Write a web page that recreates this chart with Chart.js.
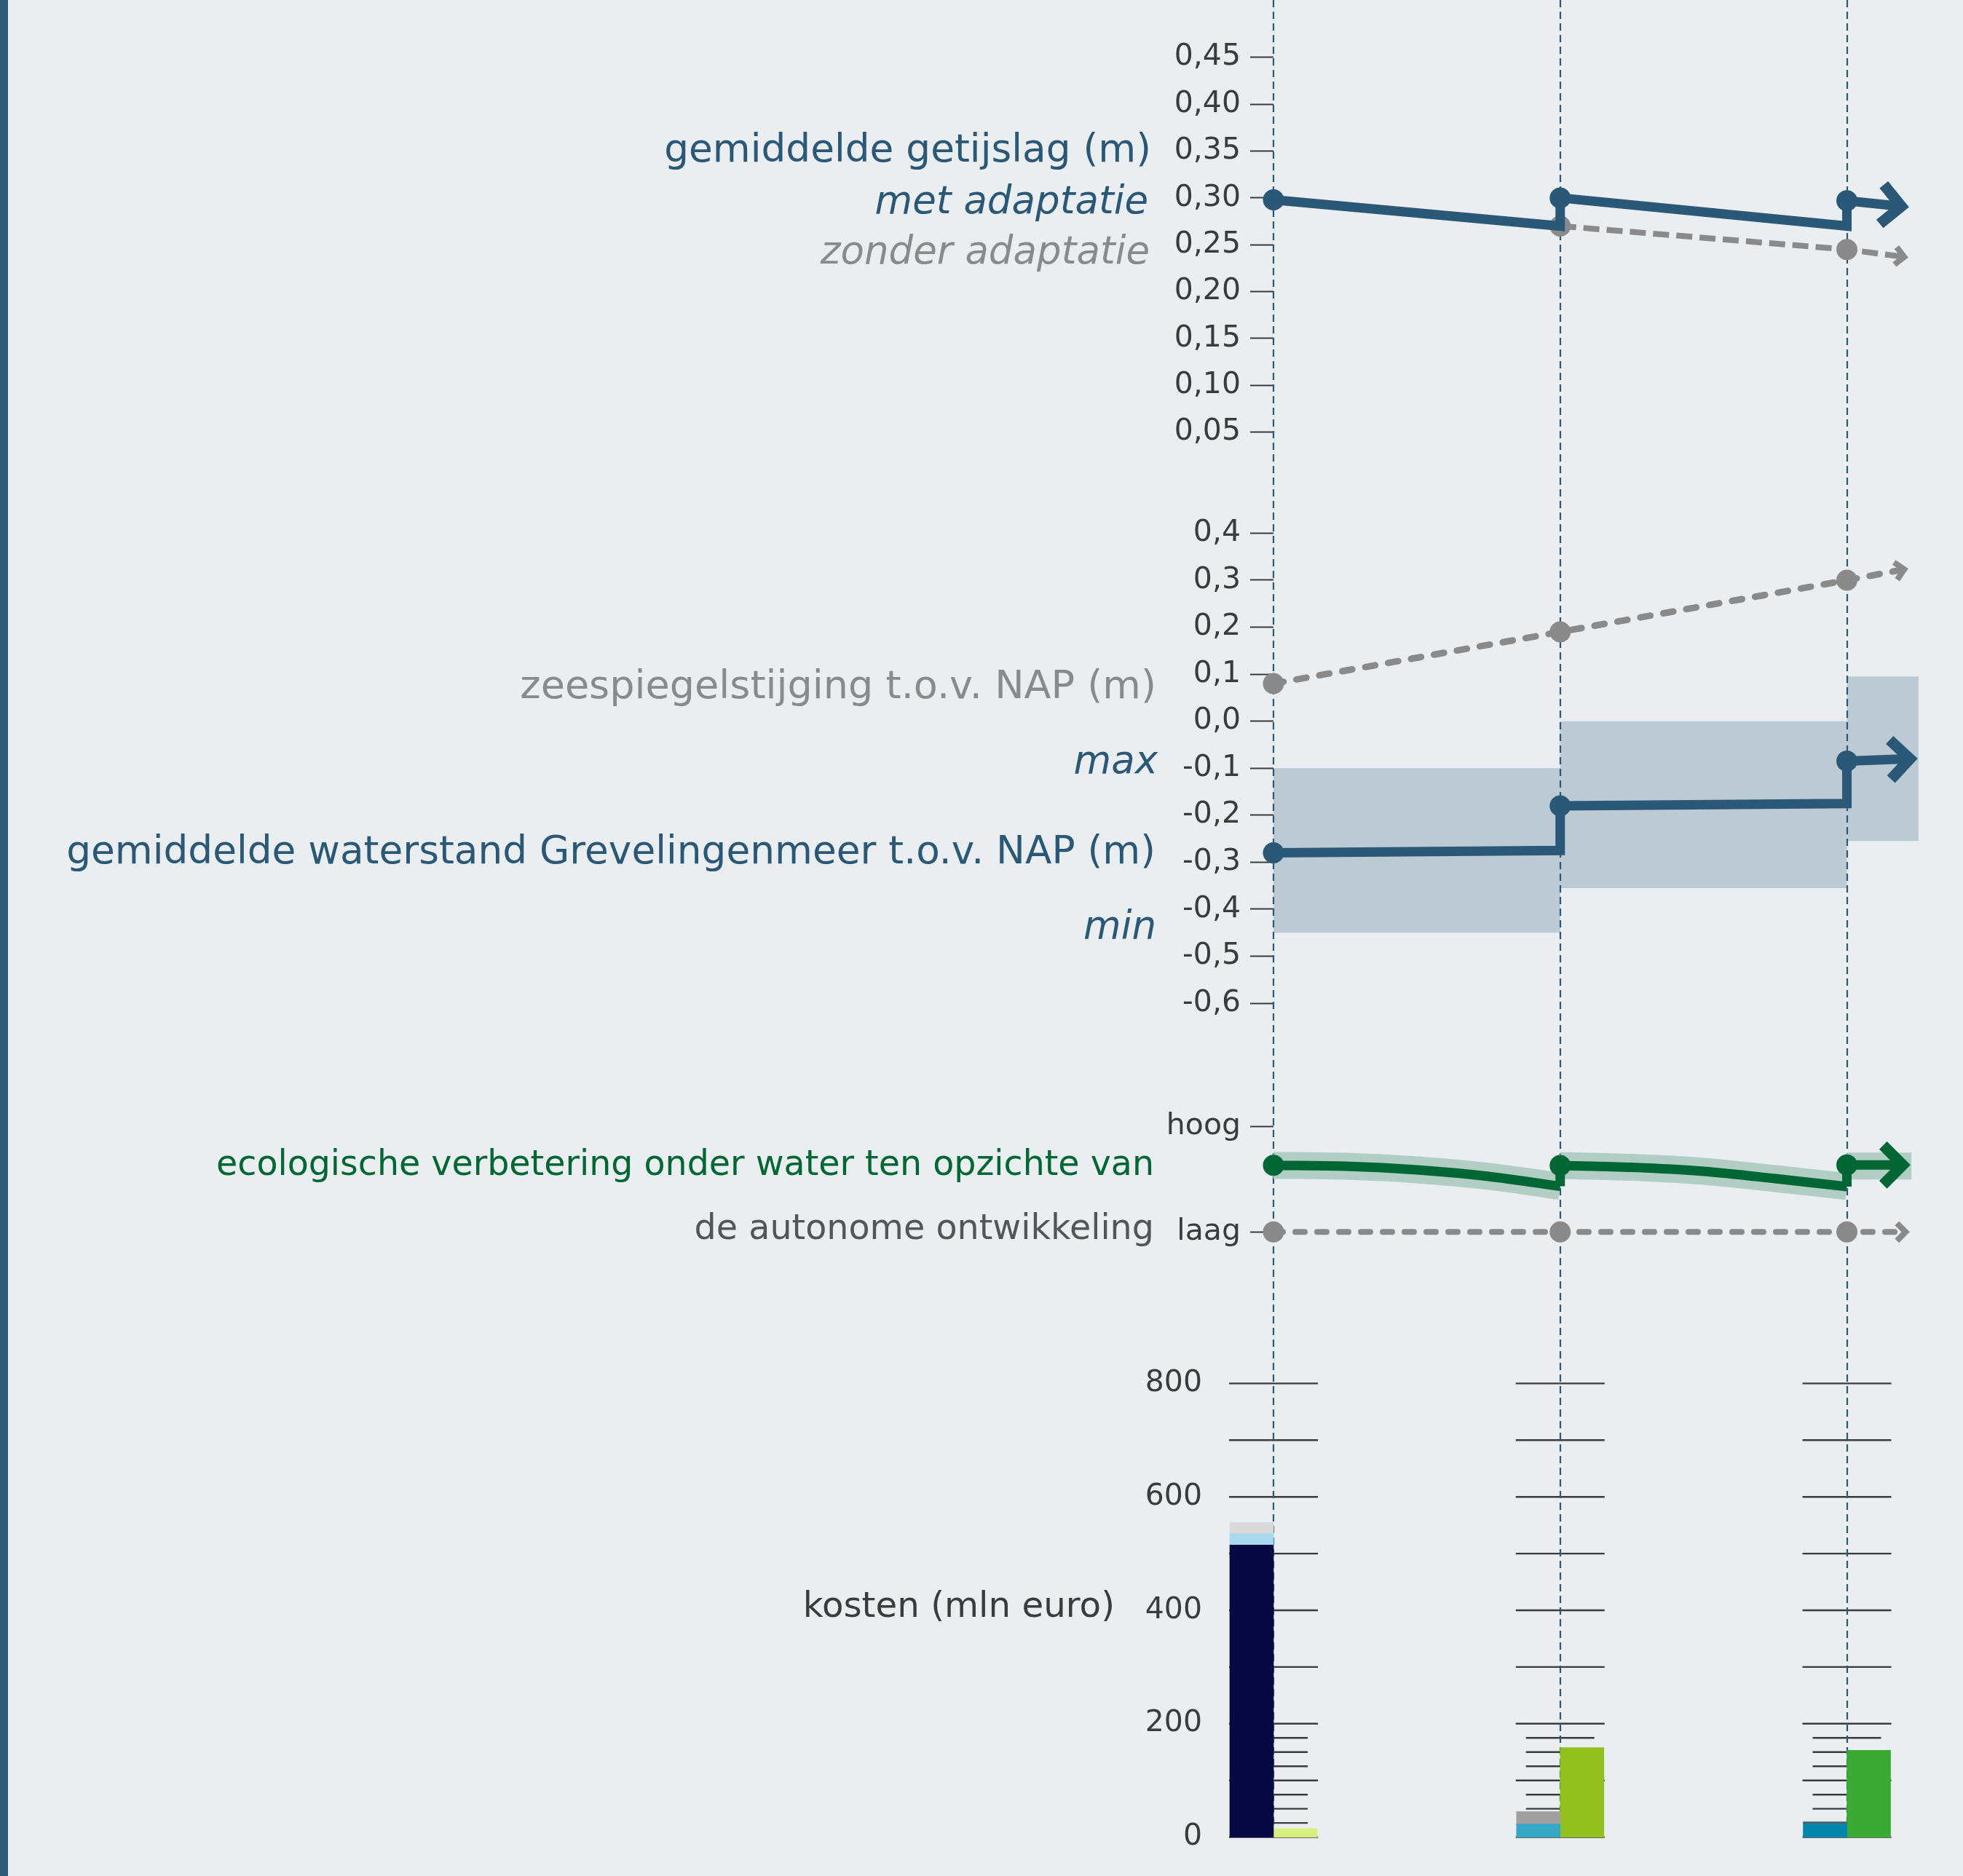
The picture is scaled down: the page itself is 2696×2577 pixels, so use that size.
<!DOCTYPE html>
<html lang="nl">
<head>
<meta charset="utf-8">
<title>Grevelingen: getijslag, waterstand, ecologie en kosten</title>
<script src="https://cdn.jsdelivr.net/npm/chart.js@4.4.1/dist/chart.umd.min.js"></script>
<style>
  html, body { margin: 0; padding: 0; background: #eaeef1; }
  #wrap { position: relative; width: 2696px; height: 2577px; }
  #stripe { position: absolute; left: 0; top: 0; width: 11px; height: 2577px; background: #2f5b7c; }
  #chart { position: absolute; left: 0; top: 0; }
</style>
</head>
<body>
<div id="wrap">
  <div id="stripe"></div>
  <canvas id="chart" width="2696" height="2577"></canvas>
</div>
<script>
// de drie momenten (gestippelde verticale lijnen)
const moments = [0, 1, 2];

// gemiddelde getijslag (m)
const tideTicks = [0.05, 0.10, 0.15, 0.20, 0.25, 0.30, 0.35, 0.40, 0.45];
const tideWithX = [0, 1, 1, 2, 2, 2.19];
const tideWith = [0.298, 0.27, 0.30, 0.27, 0.297, 0.291];
const tideWithoutX = [1, 2, 2.2];
const tideWithout = [0.27, 0.245, 0.237];

// zeespiegel en waterstand Grevelingenmeer t.o.v. NAP (m)
const waterTicks = [0.4, 0.3, 0.2, 0.1, 0, -0.1, -0.2, -0.3, -0.4, -0.5, -0.6];
const seaX = [0, 1, 2, 2.2];
const seaLevel = [0.08, 0.19, 0.30, 0.323];
const lakeX = [0, 1, 1, 2, 2, 2.22];
const lakeLevel = [-0.28, -0.275, -0.18, -0.175, -0.085, -0.08];
const rangeX = [0, 1, 1, 2, 2, 2.25];
const rangeMax = [-0.1, -0.1, 0, 0, 0.095, 0.095];
const rangeMin = [-0.45, -0.45, -0.355, -0.355, -0.255, -0.255];

// ecologische verbetering (laag = 0, hoog = 1)
const ecoTicks = [0, 1];
const ecoTickLabels = ['laag', 'hoog'];
const ecoX1 = [0, 0.25, 0.5, 0.75, 1];
const ecoCurve1 = [0.633, 0.624, 0.59, 0.528, 0.434];
const ecoX2 = [1, 1.25, 1.5, 1.75, 2];
const ecoCurve2 = [0.632, 0.614, 0.576, 0.507, 0.431];
const ecoTailX = [2, 2.195];
const ecoTail = [0.636, 0.636];
const ecoBandTailX = [2, 2.225];
const ecoBandTail = [0.627, 0.627];
const autoX = [0, 1, 2, 2.205];
const autoLevel = [0, 0, 0, 0];

// kosten (mln euro)
const costTicks = [0, 200, 400, 600, 800];
const costGrid = [0, 100, 200, 300, 400, 500, 600, 700, 800];
const costGridFine = [25, 50, 75, 125, 150, 175];
const costX = [0, 1, 2];
const costLeftA = [515, 23, 24];
const costLeftB = [20, 22, 3];
const costLeftC = [20, 0, 0];
const costRight = [15, 158, 153];

const BLUE = '#2c5877', GREY = '#8a8a8a', GREEN = '#006633', GREEN_BAND = '#b2cec4';
const RANGE = '#bccad3', INK = '#3b3b3b', DOT = 14.5;

Chart.defaults.font.family = '"DejaVu Sans", Verdana, sans-serif';

const pts = (xs, ys) => xs.map((x, i) => ({ x, y: ys[i] }));
const marks = (n, idx) => Array.from({ length: n }, (_, i) => idx.includes(i) ? DOT : 0);

function path(xs, ys, axis, opts) {
  return Object.assign({
    type: 'line', yAxisID: axis, data: pts(xs, ys),
    borderWidth: 13, borderCapStyle: 'butt', borderJoinStyle: 'miter',
    tension: 0, pointRadius: 0, pointBorderWidth: 0, pointStyle: 'circle',
    fill: false, clip: false
  }, opts);
}

function bar(values, colors, stack) {
  return {
    type: 'bar', yAxisID: 'yCost', stack, data: pts(costX, values),
    backgroundColor: colors, borderWidth: 0, barThickness: 60, clip: false, order: 15
  };
}

const bigArrow = { size: 27, width: 15 };
const smallArrow = { size: 12, width: 8 };

const datasets = [
  path(rangeX, rangeMax, 'yWater', { label: 'rangeMax', borderWidth: 0, order: 20 }),
  path(rangeX, rangeMin, 'yWater', { label: 'rangeMin', borderWidth: 0, fill: '-1', backgroundColor: RANGE, order: 19 }),

  bar(costLeftA, ['#060843', '#36a7c4', '#0086aa'], 'L'),
  bar(costLeftB, ['#a8d9ee', '#a0a0a0', '#575b5e'], 'L'),
  bar(costLeftC, ['#d9d9d9', '#d9d9d9', '#d9d9d9'], 'L'),
  bar(costRight, ['#d6ef7f', '#93c01f', '#3aaa35'], 'R'),

  path(ecoX1, ecoCurve1, 'yEco', { borderColor: GREEN_BAND, borderWidth: 37, tension: 0.3, order: 12 }),
  path(ecoX2, ecoCurve2, 'yEco', { borderColor: GREEN_BAND, borderWidth: 37, tension: 0.3, order: 12 }),
  path(ecoBandTailX, ecoBandTail, 'yEco', { borderColor: GREEN_BAND, borderWidth: 37, order: 12 }),

  path(tideWithoutX, tideWithout, 'yTide', {
    borderColor: GREY, borderWidth: 8, borderDash: [22, 10],
    pointRadius: marks(3, [0, 1]), pointBackgroundColor: GREY, arrow: smallArrow, order: 8
  }),
  path(seaX, seaLevel, 'yWater', {
    borderColor: GREY, borderWidth: 9, borderDash: [14, 18], borderCapStyle: 'round',
    pointRadius: marks(4, [0, 1, 2]), pointBackgroundColor: GREY, arrow: smallArrow, order: 8
  }),
  path(autoX, autoLevel, 'yEco', {
    borderColor: GREY, borderWidth: 8, borderDash: [13, 17], borderCapStyle: 'round',
    pointRadius: marks(4, [0, 1, 2]), pointBackgroundColor: GREY, arrow: smallArrow, order: 8
  }),

  path(tideWithX, tideWith, 'yTide', {
    borderColor: BLUE, pointRadius: marks(6, [0, 2, 4]), pointBackgroundColor: BLUE, arrow: bigArrow, order: 5
  }),
  path(lakeX, lakeLevel, 'yWater', {
    borderColor: BLUE, pointRadius: marks(6, [0, 2, 4]), pointBackgroundColor: BLUE, arrow: bigArrow, order: 5
  }),

  path(ecoX1, ecoCurve1, 'yEco', { borderColor: GREEN, tension: 0.3, pointRadius: marks(5, [0]), pointBackgroundColor: GREEN, order: 3 }),
  path(ecoX2, ecoCurve2, 'yEco', { borderColor: GREEN, tension: 0.3, pointRadius: marks(5, [0]), pointBackgroundColor: GREEN, order: 3 }),
  path([ecoX1[4], ecoX2[0]], [ecoCurve1[4], ecoCurve2[0]], 'yEco', { borderColor: GREEN, order: 3 }),
  path([ecoX2[4]].concat(ecoTailX), [ecoCurve2[4]].concat(ecoTail), 'yEco', {
    borderColor: GREEN, pointRadius: marks(3, [1]), pointBackgroundColor: GREEN, arrow: bigArrow, order: 3
  })
];

// stippellijnen en de liniaal bij de kostenstaven, direct boven de bandbreedte
const guides = {
  id: 'guides',
  afterDatasetDraw(chart, args) {
    if (chart.data.datasets[args.index].label !== 'rangeMin') return;
    const { ctx, scales: { x, yCost } } = chart;
    ctx.save();
    ctx.strokeStyle = INK;
    ctx.lineWidth = 2.4;
    moments.forEach(m => {
      const cx = x.getPixelForValue(m);
      ctx.beginPath();
      costGrid.forEach(v => {
        const y = yCost.getPixelForValue(v);
        ctx.moveTo(cx - 61, y); ctx.lineTo(cx + 61, y);
      });
      costGridFine.forEach(v => {
        const y = yCost.getPixelForValue(v);
        ctx.moveTo(cx - 47, y); ctx.lineTo(cx + 47, y);
      });
      ctx.stroke();
    });
    ctx.strokeStyle = '#2b5878';
    ctx.lineWidth = 2.2;
    ctx.setLineDash([10, 6]);
    const bottom = yCost.getPixelForValue(0);
    moments.forEach(m => {
      const cx = Math.round(x.getPixelForValue(m));
      ctx.beginPath();
      ctx.moveTo(cx, 0); ctx.lineTo(cx, bottom);
      ctx.stroke();
    });
    ctx.restore();
  }
};

const arrowHeads = {
  id: 'arrowHeads',
  afterDatasetsDraw(chart) {
    const ctx = chart.ctx;
    chart.data.datasets.forEach((ds, i) => {
      if (!ds.arrow) return;
      const els = chart.getDatasetMeta(i).data;
      const p = els[els.length - 1], q = els[els.length - 2];
      const s = ds.arrow.size;
      ctx.save();
      ctx.translate(p.x, p.y);
      ctx.rotate(Math.atan2(p.y - q.y, p.x - q.x));
      ctx.beginPath();
      ctx.moveTo(-s, -s); ctx.lineTo(0, 0); ctx.lineTo(-s, s);
      ctx.setLineDash([]);
      ctx.lineWidth = ds.arrow.width;
      ctx.lineJoin = 'miter';
      ctx.lineCap = 'butt';
      ctx.strokeStyle = ds.borderColor;
      ctx.stroke();
      ctx.restore();
    });
  }
};

const captions = [
  { text: 'gemiddelde getijslag (m)', x: 1581, y: 222, color: BLUE, size: 53.3 },
  { text: 'met adaptatie', x: 1577, y: 293, color: BLUE, size: 53, italic: true },
  { text: 'zonder adaptatie', x: 1579, y: 362, color: GREY, size: 53, italic: true },
  { text: 'zeespiegelstijging t.o.v. NAP (m)', x: 1588, y: 959, color: GREY, size: 54 },
  { text: 'max', x: 1590, y: 1062, color: BLUE, size: 53, italic: true },
  { text: 'gemiddelde waterstand Grevelingenmeer t.o.v. NAP (m)', x: 1587, y: 1186, color: BLUE, size: 53.3 },
  { text: 'min', x: 1588, y: 1289, color: BLUE, size: 53, italic: true },
  { text: 'ecologische verbetering onder water ten opzichte van', x: 1585, y: 1614, color: GREEN, size: 47.5 },
  { text: 'de autonome ontwikkeling', x: 1585, y: 1702, color: '#555555', size: 47.6 },
  { text: 'kosten (mln euro)', x: 1531, y: 2221, color: INK, size: 48.3 }
];

const captionPlugin = {
  id: 'captions',
  afterDraw(chart) {
    const ctx = chart.ctx;
    ctx.save();
    ctx.textAlign = 'right';
    ctx.textBaseline = 'alphabetic';
    captions.forEach(c => {
      ctx.font = (c.italic ? 'italic ' : '') + c.size + 'px "DejaVu Sans"';
      ctx.fillStyle = c.color;
      ctx.fillText(c.text, c.x, c.y);
    });
    ctx.restore();
  }
};

function yAxis(min, max, stackWeight, weight, ticks, fmt, opts) {
  opts = opts || {};
  return {
    type: 'linear', position: 'left', stack: 'panels', stackWeight, weight, min, max,
    border: { display: false },
    grid: Object.assign({ drawOnChartArea: false, drawTicks: true, tickLength: 32, tickWidth: 2, tickColor: INK }, opts.grid),
    ticks: { autoSkip: false, padding: opts.padding || 13, color: INK, font: { size: 41 }, callback: fmt },
    afterBuildTicks: s => { s.ticks = ticks.map(value => ({ value })); },
    afterFit: s => { s.width = 1749; s.paddingTop = 0; s.paddingBottom = 0; }
  };
}

const comma = d => v => v.toFixed(d).replace('.', ',');

new Chart(document.getElementById('chart'), {
  type: 'line',
  data: { datasets },
  options: {
    responsive: false,
    animation: false,
    devicePixelRatio: 1,
    events: [],
    layout: { padding: { top: 25, bottom: 53, left: 0, right: 40 } },
    plugins: { legend: { display: false }, tooltip: { enabled: false } },
    scales: {
      // chartArea 1749..2656 => 393.8 px per moment
      x: { type: 'linear', min: 0, max: 2.3034, display: false, offset: false },
      yTide: yAxis(-0.02866, 0.49177, 670, 4, tideTicks, comma(2)),
      yWater: yAxis(-0.7423, 0.45795, 775, 3, waterTicks, comma(1)),
      yEco: yAxis(-0.74481, 1.53734, 330, 2, ecoTicks, v => ecoTickLabels[ecoTicks.indexOf(v)]),
      yCost: yAxis(-0.5, 928.9, 724, 1, costTicks, v => String(v),
        { grid: { display: false, drawTicks: false }, padding: 98 })
    }
  },
  plugins: [guides, arrowHeads, captionPlugin]
});
</script>
</body>
</html>
